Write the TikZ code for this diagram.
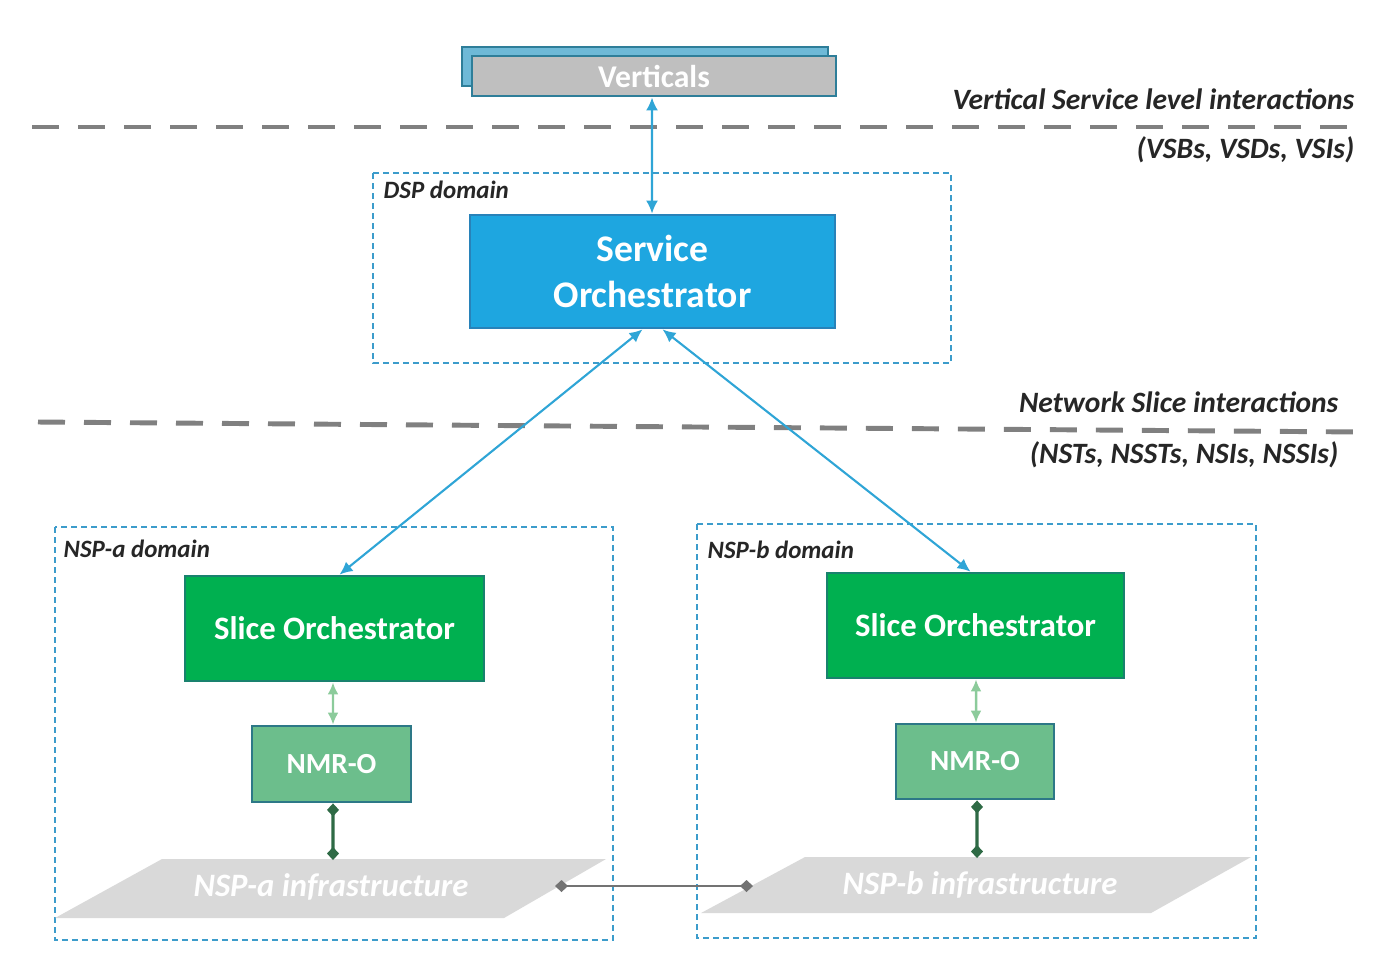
\documentclass[tikz,border=0pt]{standalone}
\usepackage{fontspec}
\setmainfont{Carlito}
\usetikzlibrary{arrows.meta}

\definecolor{soblue}{RGB}{30,166,224}
\definecolor{soedge}{RGB}{40,130,185}
\definecolor{slgreen}{RGB}{0,176,80}
\definecolor{sledge}{RGB}{25,130,110}
\definecolor{nmrgreen}{RGB}{108,190,140}
\definecolor{nmredge}{RGB}{45,120,135}
\definecolor{vertgray}{RGB}{191,191,191}
\definecolor{vertedge}{RGB}{46,126,153}
\definecolor{vertback}{RGB}{110,185,215}
\definecolor{domblue}{RGB}{60,156,203}
\definecolor{linkblue}{RGB}{47,165,214}
\definecolor{linkgreen}{RGB}{140,203,155}
\definecolor{infragreen}{RGB}{46,106,69}
\definecolor{infragray}{RGB}{217,217,217}
\definecolor{sepgray}{RGB}{128,128,128}
\definecolor{txtgray}{RGB}{38,38,38}

\tikzset{
  orchbox/.style={draw=soedge, fill=soblue, line width=0.8pt, inner sep=0pt, align=center,
    text=white, font=\fontsize{10.7}{13}\selectfont\bfseries},
  slicebox/.style={draw=sledge, fill=slgreen, line width=0.8pt, inner sep=0pt,
    text=white, font=\fontsize{9.3}{11}\selectfont\bfseries},
  nmrbox/.style={draw=nmredge, fill=nmrgreen, line width=0.8pt, inner sep=0pt,
    text=white, font=\fontsize{8.3}{10}\selectfont\bfseries},
  domainbox/.style={draw=domblue, line width=0.7pt, dash pattern=on 0.6mm off 0.4mm},
  domainlabel/.style={anchor=west, inner sep=0pt, text=txtgray, font=\fontsize{7.1}{8.5}\selectfont\bfseries\itshape},
  levellabel/.style={anchor=east, inner sep=0pt, text=txtgray, font=\fontsize{8.4}{10}\selectfont\bfseries\itshape},
  separator/.style={draw=sepgray, line width=1.4pt, dash pattern=on 2.7mm off 1.9mm},
  infra/.style={fill=infragray, draw=none},
  infralabel/.style={inner sep=0pt, text=white, font=\fontsize{9.3}{11}\selectfont\bfseries\itshape},
  bluelink/.style={draw=linkblue, line width=0.6pt, {Latex[length=1.3mm,width=1.2mm]}-{Latex[length=1.3mm,width=1.2mm]}},
  greenlink/.style={draw=linkgreen, line width=0.7pt, {Latex[length=1.2mm,width=1.1mm]}-{Latex[length=1.2mm,width=1.1mm]}},
  infralink/.style={draw=infragreen, line width=0.9pt, {Diamond[length=1.3mm,width=1.2mm]}-{Diamond[length=1.3mm,width=1.2mm]}},
  peerlink/.style={draw=gray!90!black, line width=0.8pt, {Diamond[length=1.3mm,width=1.2mm]}-{Diamond[length=1.3mm,width=1.2mm]}}
}

\begin{document}
\begin{tikzpicture}[x=0.1mm, y=-0.1mm]
		\useasboundingbox (0,0) rectangle (1400,968);
		
		% Verticals
		\node[draw=vertedge, fill=vertback, line width=0.8pt, minimum width=36.6mm, minimum height=3.9mm, inner sep=0pt] (vertsback) at (645,66.5) {};
		\node[draw=vertedge, fill=vertgray, line width=0.8pt, minimum width=36.4mm, minimum height=4mm, inner sep=0pt,
		      text=white, font=\fontsize{9}{11}\selectfont\bfseries] (verts) at (654,76) {Verticals};
		
		% Separadores de nivel
		\draw[separator] (32,127) -- (1358,127);
		\node[levellabel] (vsllabel) at (1355,99) {Vertical Service level interactions};
		\node[levellabel] (vslitems) at (1355,150) {(VSBs, VSDs, VSIs)};
		
		\draw[separator] (38,422) -- (1362,432);
		\node[levellabel] (nslabel) at (1339,402) {Network Slice interactions};
		\node[levellabel] (nsitems) at (1339,455) {(NSTs, NSSTs, NSIs, NSSIs)};
		
		% Dominios
		\draw[domainbox] (373,173) rectangle (951,363);
		\node[domainlabel] (dsplabel) at (383,190) {DSP domain};
		\draw[domainbox] (55,527) rectangle (613,940);
		\node[domainlabel] (nspalabel) at (63,549) {NSP-a domain};
		\draw[domainbox] (697,524) rectangle (1256,938);
		\node[domainlabel] (nspblabel) at (707,550) {NSP-b domain};
		
		% Infraestructura
		\fill[infra] (55,918) -- (162,859) -- (606,859) -- (504,918) -- cycle;
		\node[infralabel] (infa) at (331,887) {NSP-a infrastructure};
		\fill[infra] (701,913) -- (805,857) -- (1251,857) -- (1151,913) -- cycle;
		\node[infralabel] (infb) at (980,885) {NSP-b infrastructure};
		\coordinate (infatop) at (333,860);
		\coordinate (infbtop) at (977,858);
		\coordinate (infaport) at (555,886);
		\coordinate (infbport) at (753,886);
		
		% Orquestadores
		\node[orchbox, minimum width=36.5mm, minimum height=11.3mm] (so) at (652.5,271.5) {Service\\Orchestrator};
		\node[slicebox, minimum width=29.9mm, minimum height=10.5mm] (soa) at (334.5,628.5) {Slice Orchestrator};
		\node[slicebox, minimum width=29.7mm, minimum height=10.5mm] (sob) at (975.5,625.5) {Slice Orchestrator};
		\node[nmrbox, minimum width=15.9mm, minimum height=7.6mm] (nmra) at (331.5,764) {NMR-O};
		\node[nmrbox, minimum width=15.8mm, minimum height=7.5mm] (nmrb) at (975,761.5) {NMR-O};
		
		% Interacciones
		\draw[bluelink] ([xshift=-0.2mm]verts.south) -- ([xshift=-0.05mm]so.north);
		\draw[bluelink] ([xshift=-1mm]so.south) -- ([xshift=0.5mm]soa.north);
		\draw[bluelink] ([xshift=1mm]so.south) -- ([xshift=-0.5mm]sob.north);
		\draw[greenlink] ([xshift=-0.15mm]soa.south) -- ([xshift=0.15mm]nmra.north);
		\draw[greenlink] ([xshift=0.05mm]sob.south) -- ([xshift=0.1mm]nmrb.north);
		\draw[infralink] ([xshift=0.15mm]nmra.south) -- (infatop);
		\draw[infralink] ([xshift=0.2mm]nmrb.south) -- (infbtop);
		\draw[peerlink] (infaport) -- (infbport);
	\end{tikzpicture}
\end{document}
